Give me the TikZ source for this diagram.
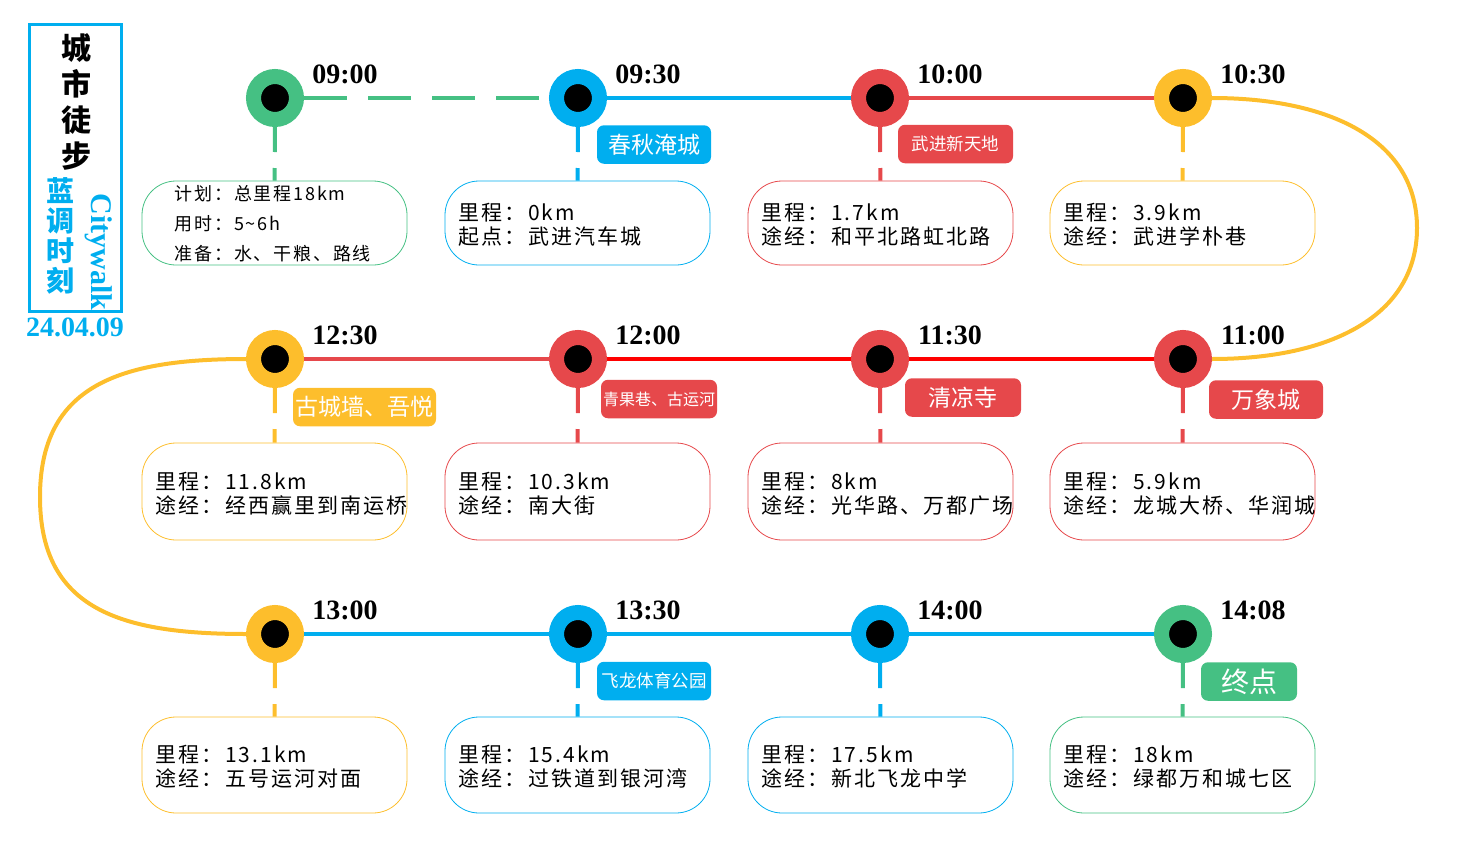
\documentclass[tikz,border=0pt]{standalone}
\usepackage{fontspec}
\setmainfont{Liberation Serif}
\newfontfamily\cjkfont{Noto Sans CJK SC}
\newfontfamily\infofont[LetterSpace=10]{Noto Sans CJK SC}
\usetikzlibrary{positioning,calc}

\definecolor{lgreen}{HTML}{45C083}
\definecolor{lblue}{HTML}{00AEEF}
\definecolor{lred}{HTML}{E6484B}
\definecolor{lyellow}{HTML}{FDBE2C}
\definecolor{hred}{HTML}{FF0000}

\tikzset{
  stop/.style={circle, draw=#1, line width=15pt, fill=black, minimum size=43pt, inner sep=0pt},
  time/.style={font=\fontsize{28}{30}\selectfont\bfseries},
  route/.style={line width=4pt, #1},
  stub/.style={line width=4pt, #1, dash pattern=on 25pt off 16pt},
  infobox/.style={draw=#1, line width=0.8pt, rounded corners=34pt, minimum width=265pt, inner sep=0pt},
  info/.style={font=\infofont\fontsize{21}{24}\selectfont, align=left, anchor=west, inner sep=0pt},
  tag/.style={fill=#1, rounded corners=7pt, text=white, inner sep=0pt, minimum height=38.5pt}
}

\begin{document}
\begin{tikzpicture}[x=1pt, y=-1pt]
  \useasboundingbox (0,0) rectangle (1457,852);

  % title block
  \node[draw=lblue, line width=3pt, minimum width=92pt, minimum height=287pt, inner sep=0pt] (title) at (75.5,168) {};
  \node[font=\cjkfont\bfseries\fontsize{30}{35.7}\selectfont, align=center, inner sep=0pt] (name) at (76,102) {城\\市\\徒\\步};
  \node[font=\cjkfont\bfseries\fontsize{28}{30}\selectfont, align=center, inner sep=0pt, text=lblue] (blue) at (60,236) {蓝\\调\\时\\刻};
  \node[font=\fontsize{30}{32}\selectfont\bfseries, text=lblue, rotate=-90, inner sep=0pt] (walk) at (99,252) {Citywalk};
  \node[font=\fontsize{28}{28}\selectfont\bfseries, text=lblue, inner sep=0pt] (date) at (75,327) {24.04.09};

  % stations
  \foreach \n/\x/\y/\c/\t in {
    1/275/98/lgreen/09:00, 2/578/98/lblue/09:30, 3/880/98/lred/10:00, 4/1183/98/lyellow/10:30,
    5/1183/359/lred/11:00, 6/880/359/lred/11:30, 7/578/359/lred/12:00, 8/275/359/lyellow/12:30,
    9/275/634/lyellow/13:00, 10/578/634/lblue/13:30, 11/880/634/lblue/14:00, 12/1183/634/lgreen/14:08}
  {
    \node[stop=\c] (s\n) at (\x,\y) {};
    \node[time] (h\n) at (\x+70,\y-24) {\t};
  }

  % info boxes
  \node[infobox=lgreen, minimum height=84pt] (b1) at (274.5,223) {};
  \node[info, font=\infofont\fontsize{18}{30}\selectfont] (t1) at ([xshift=33pt, yshift=-1pt]b1.west)
    {计划：总里程18km\\用时：5\textasciitilde 6h\\准备：水、干粮、路线};
  \draw[stub=lgreen] (s1) -- (b1);
  \foreach \n/\x/\y/\h/\c/\a/\b in {
    2/577.5/223/84/lblue/里程：0km/起点：武进汽车城,
    3/880.5/223/84/lred/里程：1.7km/途经：和平北路虹北路,
    4/1182.5/223/84/lyellow/里程：3.9km/途经：武进学朴巷,
    5/1182.5/491.5/97/lred/里程：5.9km/途经：龙城大桥、华润城,
    6/880.5/491.5/97/lred/里程：8km/途经：光华路、万都广场,
    7/577.5/491.5/97/lred/里程：10.3km/途经：南大街,
    8/274.5/491.5/97/lyellow/里程：11.8km/途经：经西赢里到南运桥,
    9/274.5/765/96/lyellow/里程：13.1km/途经：五号运河对面,
    10/577.5/765/96/lblue/里程：15.4km/途经：过铁道到银河湾,
    11/880.5/765/96/lblue/里程：17.5km/途经：新北飞龙中学,
    12/1182.5/765/96/lgreen/里程：18km/途经：绿都万和城七区}
  {
    \node[infobox=\c, minimum height=\h pt] (b\n) at (\x,\y) {};
    \node[info] (t\n) at ([xshift=14pt, yshift=-2pt]b\n.west) {\a\\\b};
    \draw[stub=\c] (s\n) -- (b\n);
  }

  % place tags
  \foreach \n/\x/\y/\w/\s/\c/\t in {
    2/654/144.5/114/23/lblue/春秋淹城,
    3/955.5/144/115/17.5/lred/武进新天地,
    5/1266/399.5/114/23/lred/万象城,
    6/963/397.5/116/23/lred/清凉寺,
    7/659/399/116/16/lred/青果巷、古运河,
    8/364.5/407/143/23/lyellow/古城墙、吾悦,
    10/654/681/114/17.5/lblue/飞龙体育公园,
    12/1249/681.5/96/28/lgreen/终点}
  {
    \node[tag=\c, minimum width=\w pt, font=\cjkfont\fontsize{\s}{\s}\selectfont] (g\n) at (\x,\y) {\t};
  }

  % route
  \coordinate (rturn) at (1417,228);
  \coordinate (lturn) at (40,497);
  \draw[route=lgreen, dash pattern=on 43pt off 21pt] (s1) -- (s2);
  \draw[route=lblue] (s2) -- (s3);
  \draw[route=lred] (s3) -- (s4);
  \draw[route=lyellow] (s4.east) .. controls (1330,98) and (1417,140) .. (rturn)
    .. controls (1417,316) and (1330,359) .. (s5.east);
  \draw[route=hred] (s5) -- (s6);
  \draw[route=hred] (s6) -- (s7);
  \draw[route=lred] (s7) -- (s8);
  \draw[route=lyellow] (s8.west) .. controls (120,359) and (40,385) .. (lturn)
    .. controls (40,609) and (120,634) .. (s9.west);
  \draw[route=lblue] (s9) -- (s10);
  \draw[route=lblue] (s10) -- (s11);
  \draw[route=lblue] (s11) -- (s12);
\end{tikzpicture}
\end{document}
